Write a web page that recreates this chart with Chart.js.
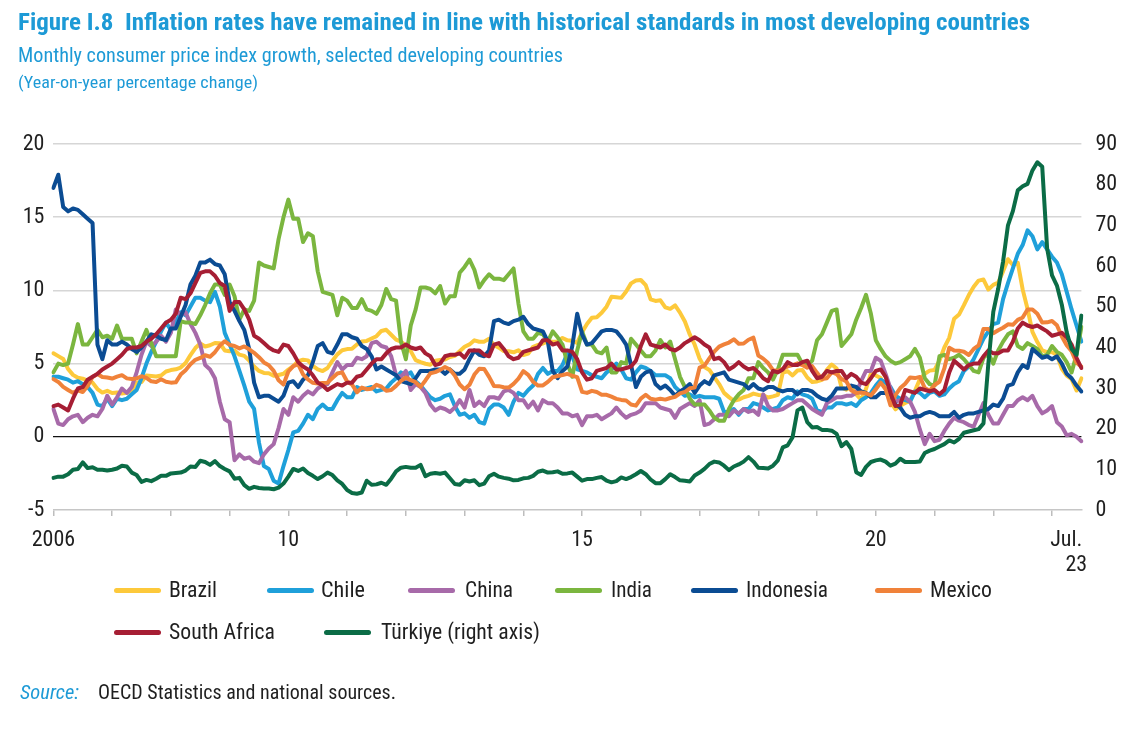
<!DOCTYPE html>
<html>
<head>
<meta charset="utf-8">
<script src="https://cdn.jsdelivr.net/npm/chart.js@4.4.1/dist/chart.umd.min.js"></script>
<style>
  html, body { margin: 0; padding: 0; background: #ffffff; }
  #wrap { position: relative; width: 1140px; height: 732px; overflow: hidden; background: #fff;
          font-family: "Liberation Sans Narrow", "Roboto Condensed", "DejaVu Sans Condensed", Roboto, "Noto Sans", sans-serif; }
  #c { position: absolute; left: 0; top: 0; }
  .t { position: absolute; white-space: pre; line-height: 1; transform-origin: 0 50%; z-index: 2; }
  .sw { position: absolute; height: 5px; border-radius: 3px; z-index: 2; }
</style>
</head>
<body>
<div id="wrap">
  <canvas id="c" width="1140" height="732"></canvas>
</div>
<script>
// ---------------- DATA (year-on-year % change, monthly, Jan 2006 - Jul 2023) ----------------
const startYear = 2006;

const brazil = [
  5.70, 5.51, 5.32, 4.63, 4.23, 4.03, 3.97, 3.84, 3.70, 3.26, 3.02, 3.14,
  2.99, 3.02, 2.96, 3.00, 3.18, 3.69, 3.74, 4.18, 4.15, 4.12, 4.19, 4.46,
  4.56, 4.61, 4.73, 5.04, 5.58, 6.06, 6.37, 6.17, 6.25, 6.41, 6.39, 5.90,
  5.84, 5.90, 5.61, 5.53, 5.20, 4.80, 4.50, 4.36, 4.34, 4.17, 4.22, 4.31,
  4.59, 4.83, 5.17, 5.26, 5.22, 4.84, 4.60, 4.49, 4.70, 5.20, 5.63, 5.91,
  5.99, 6.01, 6.30, 6.51, 6.55, 6.71, 6.87, 7.23, 7.31, 6.97, 6.64, 6.50,
  6.22, 5.85, 5.24, 5.10, 4.99, 4.92, 5.20, 5.24, 5.28, 5.45, 5.53, 5.84,
  6.15, 6.31, 6.59, 6.49, 6.50, 6.70, 6.27, 6.09, 5.86, 5.84, 5.77, 5.91,
  5.59, 5.68, 6.15, 6.28, 6.37, 6.52, 6.50, 6.51, 6.75, 6.59, 6.56, 6.41,
  7.14, 7.70, 8.13, 8.17, 8.47, 8.89, 9.56, 9.53, 9.49, 9.93, 10.48, 10.67,
  10.71, 10.36, 9.39, 9.28, 9.32, 8.84, 8.74, 8.97, 8.48, 7.87, 6.99, 6.29,
  5.35, 4.76, 4.57, 4.08, 3.60, 3.00, 2.71, 2.46, 2.54, 2.70, 2.80, 2.95,
  2.86, 2.84, 2.68, 2.76, 2.86, 4.39, 4.48, 4.19, 4.53, 4.56, 4.05, 3.75,
  3.78, 3.89, 4.58, 4.94, 4.66, 3.37, 3.22, 3.43, 2.89, 2.54, 3.27, 4.31,
  4.19, 4.01, 3.30, 2.40, 1.88, 2.13, 2.31, 2.44, 3.14, 3.92, 4.31, 4.52,
  4.56, 5.20, 6.10, 6.76, 8.06, 8.35, 8.99, 9.68, 10.25, 10.67, 10.74, 10.06,
  10.38, 10.54, 11.30, 12.13, 11.73, 11.89, 10.07, 8.73, 7.17, 6.47, 5.90, 5.79,
  5.77, 5.60, 4.65, 4.18, 3.94, 3.16, 3.99
];

const chile = [
  4.1, 4.1, 4.0, 3.9, 3.7, 3.8, 3.6, 3.4, 3.0, 2.2, 2.1, 2.6,
  2.1, 2.6, 2.5, 2.6, 2.9, 3.2, 4.0, 5.0, 5.8, 6.5, 7.2, 7.8,
  7.3, 7.8, 8.5, 8.3, 8.9, 9.5, 9.5, 9.3, 9.2, 9.9, 8.9, 7.1,
  6.3, 5.5, 4.5, 3.5, 2.4, 1.9, -0.4, -2.0, -2.2, -3.0, -3.2, -2.0,
  -0.9, 0.3, 0.4, 0.9, 1.5, 1.2, 1.9, 2.2, 1.9, 1.9, 2.5, 3.0,
  2.7, 2.7, 3.4, 3.2, 3.3, 3.4, 3.1, 3.2, 3.3, 3.7, 4.0, 4.4,
  4.2, 4.4, 3.8, 3.5, 3.1, 2.7, 2.5, 2.6, 2.8, 2.9, 2.1, 1.5,
  1.6, 1.3, 1.5, 1.0, 0.9, 1.9, 2.2, 2.2, 2.0, 1.5, 2.4, 3.0,
  2.8, 3.2, 3.5, 4.3, 4.7, 4.3, 4.5, 4.5, 4.9, 5.7, 5.5, 4.6,
  4.5, 4.4, 4.2, 4.1, 4.0, 4.4, 4.6, 5.0, 4.6, 4.0, 3.9, 4.4,
  4.8, 4.7, 4.5, 4.2, 4.2, 4.2, 4.0, 3.4, 3.1, 2.8, 2.9, 2.7,
  2.8, 2.7, 2.7, 2.7, 2.6, 1.7, 1.7, 1.9, 1.5, 1.9, 1.9, 2.3,
  2.2, 2.0, 1.8, 1.9, 2.0, 2.5, 2.7, 2.6, 3.1, 2.9, 2.8, 2.6,
  1.8, 1.7, 2.0, 2.0, 2.3, 2.3, 2.2, 2.3, 2.1, 2.5, 2.7, 3.0,
  3.5, 3.9, 3.7, 3.4, 2.8, 2.6, 2.5, 2.4, 3.1, 3.0, 2.7, 3.0,
  3.1, 2.8, 2.9, 3.3, 3.6, 3.8, 4.5, 4.8, 5.3, 6.0, 6.7, 7.2,
  7.7, 7.8, 9.4, 10.5, 11.5, 12.5, 13.1, 14.1, 13.7, 12.8, 13.3, 12.8,
  12.3, 11.9, 11.1, 9.9, 8.7, 7.6, 6.5
];

const china = [
  1.9, 0.9, 0.8, 1.2, 1.4, 1.5, 1.0, 1.3, 1.5, 1.4, 1.9, 2.8,
  2.2, 2.7, 3.3, 3.0, 3.4, 4.4, 5.6, 6.5, 6.2, 6.5, 6.9, 6.5,
  7.1, 8.7, 8.3, 8.5, 7.7, 7.1, 6.3, 4.9, 4.6, 4.0, 2.4, 1.2,
  1.0, -1.6, -1.2, -1.5, -1.4, -1.7, -1.8, -1.2, -0.8, -0.5, 0.6, 1.9,
  1.5, 2.7, 2.4, 2.8, 3.1, 2.9, 3.3, 3.5, 3.6, 4.4, 5.1, 4.6,
  4.9, 4.9, 5.4, 5.3, 5.5, 6.4, 6.5, 6.2, 6.1, 5.5, 4.2, 4.1,
  4.5, 3.2, 3.6, 3.4, 3.0, 2.2, 1.8, 2.0, 1.9, 1.7, 2.0, 2.5,
  2.0, 3.2, 2.1, 2.4, 2.1, 2.7, 2.7, 2.6, 3.1, 3.2, 3.0, 2.5,
  2.5, 2.0, 2.4, 1.8, 2.5, 2.3, 2.3, 2.0, 1.6, 1.6, 1.4, 1.5,
  0.8, 1.4, 1.4, 1.5, 1.2, 1.4, 1.6, 2.0, 1.6, 1.3, 1.5, 1.6,
  1.8, 2.3, 2.3, 2.3, 2.0, 1.9, 1.8, 1.3, 1.9, 2.1, 2.3, 2.1,
  2.5, 0.8, 0.9, 1.2, 1.5, 1.5, 1.4, 1.8, 1.6, 1.9, 1.7, 1.8,
  1.5, 2.9, 2.1, 1.8, 1.8, 1.9, 2.1, 2.3, 2.5, 2.5, 2.2, 1.9,
  1.7, 1.5, 2.3, 2.5, 2.7, 2.7, 2.8, 2.8, 3.0, 3.8, 4.5, 4.5,
  5.4, 5.2, 4.3, 3.3, 2.4, 2.5, 2.7, 2.4, 1.7, 0.5, -0.5, 0.2,
  -0.3, -0.2, 0.4, 0.9, 1.3, 1.1, 1.0, 0.8, 0.7, 1.5, 2.3, 1.5,
  0.9, 0.9, 1.5, 2.1, 2.1, 2.5, 2.7, 2.5, 2.8, 2.1, 1.6, 1.8,
  2.1, 1.0, 0.7, 0.1, 0.2, 0.0, -0.3
];

const india = [
  4.4, 5.0, 4.9, 5.0, 6.3, 7.7, 6.3, 6.3, 6.8, 7.3, 6.8, 6.9,
  6.7, 7.6, 6.7, 6.7, 6.7, 5.7, 6.5, 7.3, 6.4, 5.5, 5.5, 5.5,
  5.5, 5.5, 7.9, 7.8, 7.8, 7.7, 8.3, 9.0, 9.8, 10.4, 10.4, 9.7,
  10.4, 9.6, 8.0, 8.7, 8.6, 9.3, 11.9, 11.7, 11.6, 11.5, 13.5, 15.0,
  16.2, 14.9, 14.9, 13.3, 13.9, 13.7, 11.3, 9.9, 9.8, 9.7, 8.3, 9.5,
  9.3, 8.8, 8.8, 9.4, 8.7, 8.6, 8.4, 9.0, 10.1, 9.4, 9.3, 6.5,
  5.3, 7.6, 8.7, 10.2, 10.2, 10.1, 9.8, 10.3, 9.1, 9.6, 9.6, 11.2,
  11.6, 12.1, 11.4, 10.2, 10.7, 11.1, 10.8, 10.8, 10.7, 11.1, 11.5, 9.1,
  7.2, 6.7, 6.7, 7.1, 7.0, 6.5, 7.2, 6.8, 6.3, 5.0, 4.1, 5.9,
  7.2, 6.3, 6.3, 5.8, 5.7, 6.1, 4.4, 4.4, 5.1, 5.0, 6.7, 6.3,
  5.9, 5.5, 5.5, 5.9, 6.6, 6.1, 6.5, 5.3, 4.1, 3.4, 2.6, 2.2,
  2.2, 2.2, 1.8, 1.3, 1.1, 1.1, 1.9, 2.5, 2.9, 3.2, 4.0, 4.0,
  5.1, 4.7, 4.4, 3.9, 4.6, 5.6, 5.6, 5.6, 5.6, 5.0, 4.9, 5.2,
  6.6, 7.0, 7.8, 8.6, 8.7, 6.2, 6.6, 7.0, 8.0, 8.8, 9.7, 8.4,
  6.6, 6.0, 5.5, 5.2, 5.0, 5.1, 5.3, 5.5, 6.0, 5.4, 4.0, 3.6,
  3.5, 5.5, 5.6, 5.3, 5.4, 5.6, 5.3, 4.9, 4.5, 4.4, 5.4, 5.7,
  5.0, 5.9, 6.5, 7.0, 7.2, 6.2, 6.0, 6.4, 6.2, 6.0, 5.5, 5.6,
  6.2, 5.8, 5.6, 5.1, 4.4, 5.6, 7.5
];

const indonesia = [
  17.0, 17.9, 15.7, 15.4, 15.6, 15.5, 15.2, 14.9, 14.6, 6.3, 5.3, 6.6,
  6.3, 6.3, 6.5, 6.3, 6.0, 5.8, 6.1, 6.5, 7.0, 6.9, 6.7, 6.6,
  7.4, 7.4, 8.2, 9.0, 10.4, 11.0, 11.9, 11.9, 12.1, 11.8, 11.7, 11.1,
  9.2, 8.6, 7.9, 7.3, 6.0, 3.7, 2.7, 2.8, 2.8, 2.6, 2.4, 2.8,
  3.7, 3.8, 3.4, 3.9, 4.2, 5.1, 6.2, 6.4, 5.8, 5.7, 6.3, 7.0,
  7.0, 6.8, 6.7, 6.2, 6.0, 5.5, 4.6, 4.8, 4.6, 4.4, 4.2, 3.8,
  3.7, 3.6, 4.0, 4.5, 4.5, 4.5, 4.6, 4.6, 4.3, 4.6, 4.3, 4.3,
  4.6, 5.3, 5.9, 5.6, 5.5, 5.9, 7.9, 8.0, 7.8, 7.7, 7.9, 8.0,
  8.2, 7.7, 7.4, 7.3, 7.2, 6.5, 4.5, 4.0, 4.5, 4.8, 6.2, 8.4,
  7.0, 6.3, 6.4, 6.8, 7.2, 7.3, 7.3, 7.2, 6.8, 6.3, 4.9, 3.4,
  4.1, 4.4, 4.5, 3.6, 3.3, 3.5, 3.2, 2.8, 3.1, 3.3, 3.6, 3.0,
  3.5, 3.8, 3.6, 4.2, 4.3, 4.4, 3.9, 3.8, 3.7, 3.6, 3.3, 3.6,
  3.3, 3.2, 3.4, 3.4, 3.2, 3.1, 3.2, 3.2, 2.9, 3.2, 3.2, 3.1,
  2.8, 2.6, 2.5, 2.8, 3.3, 3.3, 3.3, 3.5, 3.4, 3.1, 3.0, 2.7,
  2.7, 3.0, 3.0, 2.7, 2.2, 2.0, 1.5, 1.3, 1.4, 1.4, 1.6, 1.7,
  1.6, 1.4, 1.4, 1.4, 1.7, 1.3, 1.5, 1.6, 1.6, 1.7, 1.8, 1.9,
  2.2, 2.1, 2.6, 3.5, 3.6, 4.4, 4.9, 4.7, 6.0, 5.7, 5.4, 5.5,
  5.3, 5.5, 5.0, 4.3, 4.0, 3.5, 3.1
];

const mexico = [
  3.94, 3.75, 3.41, 3.20, 3.00, 3.18, 3.06, 3.47, 4.09, 4.29, 4.09, 4.05,
  3.98, 4.11, 4.21, 3.99, 3.95, 3.98, 4.14, 4.03, 3.79, 3.74, 3.93, 3.76,
  3.70, 3.72, 4.25, 4.55, 4.95, 5.26, 5.39, 5.57, 5.47, 5.78, 6.23, 6.53,
  6.28, 6.20, 6.04, 6.17, 5.98, 5.74, 5.44, 5.08, 4.89, 4.50, 3.86, 3.57,
  4.46, 4.83, 4.97, 4.27, 3.92, 3.69, 3.64, 3.68, 3.70, 4.02, 4.32, 4.40,
  3.78, 3.57, 3.04, 3.36, 3.25, 3.28, 3.55, 3.42, 3.14, 3.20, 3.48, 3.82,
  4.05, 3.87, 3.73, 3.41, 3.85, 4.34, 4.42, 4.57, 4.77, 4.60, 4.18, 3.57,
  3.25, 3.55, 4.25, 4.65, 4.63, 4.09, 3.47, 3.46, 3.39, 3.36, 3.62, 3.97,
  4.48, 4.23, 3.76, 3.50, 3.51, 3.75, 4.07, 4.15, 4.22, 4.30, 4.17, 4.08,
  3.07, 3.00, 3.14, 3.06, 2.88, 2.87, 2.74, 2.59, 2.52, 2.48, 2.21, 2.13,
  2.61, 2.87, 2.60, 2.54, 2.60, 2.54, 2.65, 2.73, 2.97, 3.06, 3.31, 3.36,
  4.72, 4.86, 5.35, 5.82, 6.16, 6.31, 6.44, 6.66, 6.35, 6.37, 6.63, 6.77,
  5.55, 5.34, 5.04, 4.55, 4.51, 4.65, 4.81, 4.90, 5.02, 4.90, 4.72, 4.83,
  4.37, 3.94, 4.00, 4.41, 4.28, 3.95, 3.78, 3.16, 3.00, 3.02, 2.97, 2.83,
  3.24, 3.70, 3.25, 2.15, 2.84, 3.33, 3.62, 4.05, 4.01, 4.09, 3.33, 3.15,
  3.54, 3.76, 4.67, 6.08, 5.89, 5.88, 5.81, 5.59, 6.00, 6.24, 7.37, 7.36,
  7.07, 7.28, 7.45, 7.68, 7.65, 7.99, 8.15, 8.70, 8.70, 8.41, 7.80, 7.82,
  7.91, 7.62, 6.85, 6.25, 5.84, 5.06, 4.79
];

const southAfrica = [
  2.1, 2.2, 2.0, 1.8, 2.6, 3.3, 3.4, 3.9, 4.1, 4.3, 4.6, 4.8,
  5.0, 5.3, 5.6, 6.0, 6.1, 6.1, 6.2, 6.5, 6.7, 7.0, 7.4, 7.8,
  8.0, 8.4, 9.5, 9.4, 9.8, 10.5, 11.2, 11.3, 11.3, 11.0, 10.5, 10.3,
  8.6, 9.2, 9.2, 8.7, 8.0, 6.9, 6.7, 6.4, 6.1, 5.9, 5.8, 6.3,
  6.2, 5.7, 5.1, 4.8, 4.6, 4.2, 3.7, 3.5, 3.2, 3.4, 3.6, 3.5,
  3.7, 3.7, 4.1, 4.2, 4.6, 5.0, 5.3, 5.3, 5.7, 6.0, 6.1, 6.1,
  6.3, 6.1, 6.0, 6.1, 5.7, 5.5, 4.9, 5.0, 5.5, 5.6, 5.6, 5.7,
  5.4, 5.9, 5.9, 5.9, 5.6, 5.5, 6.3, 6.4, 6.0, 5.5, 5.3, 5.4,
  5.8, 5.9, 6.0, 6.1, 6.6, 6.6, 6.3, 6.4, 5.9, 5.9, 5.8, 5.3,
  4.4, 3.9, 4.0, 4.5, 4.6, 4.7, 5.0, 4.6, 4.6, 4.7, 4.8, 5.2,
  6.2, 7.0, 6.3, 6.2, 6.1, 6.3, 6.0, 5.9, 6.1, 6.4, 6.6, 6.8,
  6.6, 6.3, 6.1, 5.3, 5.4, 5.1, 4.6, 4.8, 5.1, 4.8, 4.6, 4.7,
  4.4, 4.0, 3.8, 4.5, 4.4, 4.6, 5.1, 4.9, 4.9, 5.1, 5.2, 4.5,
  4.0, 4.1, 4.5, 4.4, 4.5, 4.5, 4.0, 4.3, 4.1, 3.7, 3.6, 4.0,
  4.5, 4.6, 4.1, 3.0, 2.1, 2.2, 3.2, 3.1, 3.0, 3.3, 3.2, 3.1,
  3.2, 2.9, 3.2, 4.4, 5.2, 4.9, 4.6, 4.9, 5.0, 5.0, 5.5, 5.9,
  5.7, 5.7, 5.9, 5.9, 6.5, 7.4, 7.8, 7.6, 7.5, 7.6, 7.4, 7.2,
  6.9, 7.0, 7.1, 6.8, 6.3, 5.4, 4.7
];

// Türkiye is read on the right-hand axis
const turkiye = [
  7.9, 8.2, 8.2, 8.8, 9.9, 10.1, 11.7, 10.3, 10.5, 9.9, 9.9, 9.7,
  9.9, 10.2, 10.9, 10.7, 9.2, 8.6, 6.9, 7.4, 7.1, 7.7, 8.4, 8.4,
  9.0, 9.1, 9.2, 9.7, 10.7, 10.6, 12.1, 11.8, 11.1, 12.0, 10.8, 10.1,
  9.5, 7.7, 7.9, 6.1, 5.2, 5.7, 5.4, 5.3, 5.3, 5.1, 5.5, 6.5,
  8.2, 10.1, 9.6, 10.2, 9.1, 8.4, 7.6, 8.3, 9.2, 8.6, 7.3, 6.4,
  4.9, 4.2, 4.0, 4.3, 7.2, 6.2, 6.3, 6.7, 6.2, 7.7, 9.5, 10.4,
  10.6, 10.4, 10.4, 11.1, 8.3, 8.9, 9.1, 8.9, 9.2, 7.8, 6.4, 6.2,
  7.3, 7.0, 7.3, 6.1, 6.5, 8.3, 8.9, 8.2, 7.9, 7.7, 7.3, 7.4,
  7.8, 7.9, 8.4, 9.4, 9.7, 9.2, 9.3, 9.5, 8.9, 9.0, 9.2, 8.2,
  7.2, 7.6, 7.6, 7.9, 8.1, 7.2, 6.8, 7.1, 8.0, 7.6, 8.1, 8.8,
  9.6, 8.8, 7.5, 6.6, 6.6, 7.6, 8.8, 8.1, 7.3, 7.2, 7.0, 8.5,
  9.2, 10.1, 11.3, 11.9, 11.7, 10.9, 9.8, 10.7, 11.2, 11.9, 13.0, 11.9,
  10.4, 10.3, 10.2, 10.9, 12.2, 15.4, 15.9, 17.9, 24.5, 25.2, 21.6, 20.3,
  20.4, 19.7, 19.7, 19.5, 18.7, 15.7, 16.7, 15.0, 9.3, 8.6, 10.6, 11.8,
  12.2, 12.4, 11.9, 10.9, 11.4, 12.6, 11.8, 11.8, 11.8, 11.9, 14.0, 14.6,
  15.0, 15.6, 16.2, 17.1, 16.6, 17.5, 19.0, 19.3, 19.6, 19.9, 21.3, 36.1,
  48.7, 54.4, 61.1, 70.0, 73.5, 78.6, 79.6, 80.2, 83.5, 85.5, 84.4, 64.3,
  57.7, 55.2, 50.5, 43.7, 39.6, 38.2, 47.8
];

const seriesNames  = ['Brazil', 'Chile', 'China', 'India', 'Indonesia', 'Mexico', 'South Africa', 'Türkiye (right axis)'];
const seriesData   = [brazil, chile, china, india, indonesia, mexico, southAfrica, turkiye];
const seriesAxis   = ['y', 'y', 'y', 'y', 'y', 'y', 'y', 'y2'];
const seriesColors = ['#fdc93b', '#1fa0da', '#a76aa9', '#7bb63f', '#0b4c93', '#f0823a', '#a61e34', '#0b6c46'];

// x-axis tick labels (month index -> label)
const xTickIndex = [0, 48, 108, 168, 210];
const xTickText  = ['2006', '10', '15', '20', ['Jul.', '23']];

// category labels: one per month
const monthLabels = brazil.map((_, i) => (startYear + Math.floor(i / 12)) + '-' + String(i % 12 + 1).padStart(2, '0'));

// ---------------- STYLE / LAYOUT ----------------
const FONT = '"Liberation Sans Narrow", "Roboto Condensed", "DejaVu Sans Condensed", Roboto, "Noto Sans", sans-serif';
const BLUE = '#1d9ad6';
const INK = '#1f1f1f';

Chart.defaults.font.family = FONT;
Chart.defaults.font.size = 22;
Chart.defaults.color = INK;

const lastIdx = brazil.length - 1;

new Chart(document.getElementById('c'), {
  type: 'line',
  data: {
    labels: monthLabels,
    datasets: seriesNames.map((name, k) => ({
      label: name,
      data: seriesData[k],
      yAxisID: seriesAxis[k],
      borderColor: seriesColors[k],
      backgroundColor: seriesColors[k],
      borderWidth: 4,
      pointRadius: 0,
      pointHoverRadius: 0,
      tension: 0,
      fill: false,
      borderJoinStyle: 'round',
      borderCapStyle: 'round',
      order: seriesNames.length - k
    }))
  },
  options: {
    responsive: false,
    animation: false,
    devicePixelRatio: 1,
    events: [],
    layout: { padding: { top: 144, left: 0, right: 0, bottom: 152 } },
    plugins: { legend: { display: false }, tooltip: { enabled: false }, title: { display: false } },
    scales: {
      x: {
        type: 'category',
        offset: false,
        grid: {
          display: true,
          drawOnChartArea: false,
          drawTicks: true,
          tickLength: 6,
          lineWidth: 1.5,
          color: ctx => (ctx.index % 12 === 0 && ctx.index < lastIdx) ? '#bdbdbd' : 'rgba(0,0,0,0)'
        },
        border: { display: true, color: '#c6c6c6', width: 1.5 },
        ticks: {
          autoSkip: false,
          maxRotation: 0,
          minRotation: 0,
          padding: 12,
          color: INK,
          font: { size: 22, lineHeight: 1.14 },
          callback: function (value, index) {
            const k = xTickIndex.indexOf(index);
            if (k < 0) return '';
            const lab = xTickText[k];
            if (Array.isArray(lab)) {
              // last label sits left of the final tick, as in the original
              return [lab[0] + '\u00a0\u00a0\u00a0\u00a0\u00a0\u00a0', lab[1] + '\u00a0\u00a0'];
            }
            return lab;
          }
        },
        afterFit: s => { s.height = 70; }
      },
      y: {
        position: 'left',
        min: -5, max: 20,
        ticks: { stepSize: 5, padding: 9, color: INK, font: { size: 22 } },
        grid: {
          drawTicks: false,
          color: ctx => ctx.tick.value === 0 ? '#111111' : (ctx.tick.value === -5 ? 'rgba(0,0,0,0)' : '#d6d6d6'),
          lineWidth: ctx => ctx.tick.value === 0 ? 1.2 : 1.6
        },
        border: { display: false },
        afterFit: s => { s.width = 53.4; }
      },
      y2: {
        position: 'right',
        min: 0, max: 90,
        ticks: { stepSize: 10, padding: 14, color: INK, font: { size: 22 } },
        grid: { display: false, drawTicks: false, drawOnChartArea: false },
        border: { display: false },
        afterFit: s => { s.width = 58.6; }
      }
    }
  }
});

// ---------------- HTML TEXT (titles, legend, source) ----------------
const wrap = document.getElementById('wrap');
function addText(txt, x, cy, w, size, opts) {
  opts = opts || {};
  const d = document.createElement('div');
  d.className = 't';
  d.textContent = txt;
  d.style.left = x + 'px';
  d.style.top = cy + 'px';
  d.style.fontSize = size + 'px';
  d.style.color = opts.color || INK;
  if (opts.weight) d.style.fontWeight = opts.weight;
  if (opts.italic) d.style.fontStyle = 'italic';
  d.style.transform = 'translateY(-50%)';
  wrap.appendChild(d);
  const nat = d.getBoundingClientRect().width;
  const s = w / nat;
  d.style.transform = 'translateY(-50%) scaleX(' + s.toFixed(4) + ')';
  return d;
}

addText('Figure I.8  Inflation rates have remained in line with historical standards in most developing countries', 18, 22, 1012, 24, { color: BLUE, weight: 'bold' });
addText('Monthly consumer price index growth, selected developing countries', 18, 55, 545, 21, { color: BLUE });
addText('(Year-on-year percentage change)', 18, 83, 240, 16, { color: BLUE });

// legend layout: [swatch left, text left, text width, row centre y]
const legendLayout = [
  [114, 169, 48, 590], [267, 321, 44, 590], [408, 465, 48, 590], [555, 611, 41, 590],
  [691, 746, 82, 590], [875, 930, 62, 590], [114, 169, 106, 632], [324, 381, 159, 632]
];
seriesNames.forEach((name, k) => {
  const L = legendLayout[k];
  const sw = document.createElement('div');
  sw.className = 'sw';
  sw.style.left = L[0] + 'px';
  sw.style.width = '47px';
  sw.style.top = (L[3] - 2.5) + 'px';
  sw.style.background = seriesColors[k];
  wrap.appendChild(sw);
  addText(name, L[1], L[3], L[2], 22);
});

addText('Source:', 20, 692, 59, 20, { color: BLUE, italic: true });
addText('OECD Statistics and national sources.', 98, 692, 298, 20);
</script>
</body>
</html>
